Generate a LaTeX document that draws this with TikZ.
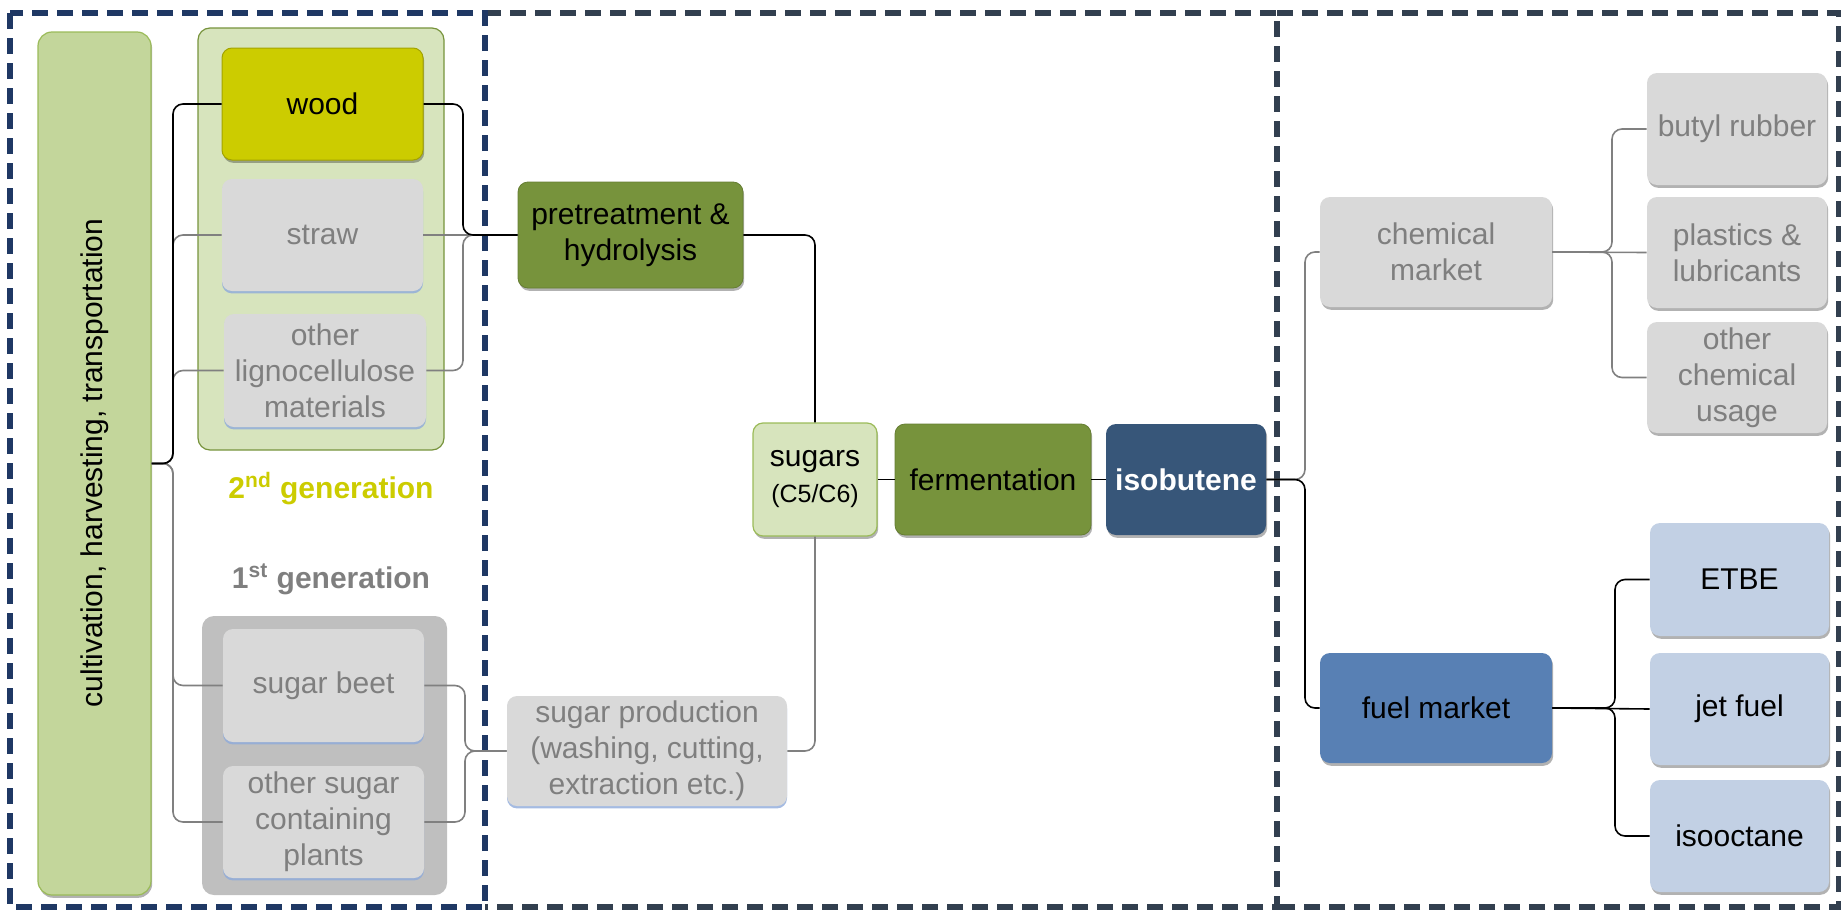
\documentclass[tikz,border=0pt]{standalone}
\usepackage{fontspec}
\setmainfont{Liberation Sans}
\usetikzlibrary{shadows,calc}
\definecolor{navyA}{HTML}{1F3864}
\definecolor{navyB}{HTML}{323F4F}
\definecolor{cultfill}{HTML}{C3D69B}
\definecolor{cultdraw}{HTML}{9BBB59}
\definecolor{grpgreen}{HTML}{D7E4BD}
\definecolor{grpgreendraw}{HTML}{77933C}
\definecolor{woodfill}{HTML}{CCCC00}
\definecolor{wooddraw}{HTML}{A3A300}
\definecolor{boxgray}{HTML}{D9D9D9}
\definecolor{txtgray}{HTML}{7F7F7F}
\definecolor{grpgray}{HTML}{BFBFBF}
\definecolor{olivebox}{HTML}{77933C}
\definecolor{isoblue}{HTML}{375679}
\definecolor{fuelblue}{HTML}{5880B4}
\definecolor{lightblue}{HTML}{C2D0E4}
\definecolor{linegray}{HTML}{808080}
\definecolor{shblue}{HTML}{8EAADB}
\definecolor{gentwo}{HTML}{CCCC00}
\newcommand\fs{\fontsize{15}{18}\selectfont}
\begin{document}
\begin{tikzpicture}[x=0.5pt,y=-0.5pt,
  corners/.style n args={4}{at={({(#1+#3)/2},{(#2+#4)/2})}, minimum width={(#3-#1)*0.5pt}, minimum height={(#4-#2)*0.5pt}},
  box/.style={rectangle, rounded corners=5pt, inner sep=0pt, align=center, font=\fs, anchor=center},
  shad/.style={drop shadow={shadow xshift=0.6pt, shadow yshift=-1.4pt, opacity=0.3, fill=black}},
  blueshad/.style={drop shadow={shadow xshift=0pt, shadow yshift=-1.2pt, opacity=0.8, fill=shblue}},
  graybox/.style={box, fill=boxgray, text=txtgray, blueshad},
  chembox/.style={box, fill=boxgray, text=txtgray, shad},
  olbox/.style={box, fill=olivebox, draw=olivebox!85!black, line width=0.4pt, text=black, shad},
  lbbox/.style={box, fill=lightblue, text=black, shad},
  grp/.style={rectangle, rounded corners=6pt, inner sep=0pt},
  zone/.style={line width=3pt, dash pattern=on 8pt off 4.5pt},
  blk/.style={draw=black, line width=0.8pt, rounded corners=5pt},
  gry/.style={draw=linegray, line width=0.8pt, rounded corners=5pt},
  genlabel/.style={font=\fs\bfseries, anchor=base}
]
\useasboundingbox (0,0) rectangle (1841,910);

% zones
\draw[zone, navyB] (485,13) -- (1277,13) -- (1277,907) -- (485,907);
\draw[zone, navyB] (1277,13) -- (1839,13) -- (1839,907) -- (1277,907);
\draw[zone, navyA] (10,13) rectangle (485,907);

% column coordinates
\coordinate (cL) at (173,0);
\coordinate (cR) at (463,0);
\coordinate (cS) at (465,0);
\coordinate (cI) at (1305,0);
\coordinate (cC) at (1612,0);
\coordinate (cF) at (1615,0);

% group boxes
\node[grp, fill=grpgreen, draw=grpgreendraw, line width=0.6pt, corners={198}{28}{444}{450}] (g2) {};
\node[grp, fill=grpgray, corners={202}{616}{447}{895}] (g1) {};

% left column
\node[box, fill=cultfill, draw=cultdraw, line width=0.6pt, rounded corners=7pt, shad, corners={38}{32}{151}{895}] (cult) {};
\node[rotate=90, font=\fs] (cultlabel) at (95,463) {cultivation, harvesting, transportation};

\node[box, fill=woodfill, draw=wooddraw, line width=0.5pt, shad, corners={222}{48}{423}{160}] (wood) {wood};
\node[graybox, corners={222}{179}{423}{291}] (straw) {straw};
\node[graybox, corners={224}{314}{426}{427}] (ligno) {other\\lignocellulose\\materials};

\node[genlabel, text=gentwo] (gen2) at (331,498) {2\textsuperscript{nd} generation};
\node[genlabel, text=txtgray] (gen1) at (331,588) {1\textsuperscript{st} generation};

\node[graybox, corners={223}{629}{424}{742}] (beet) {sugar beet};
\node[graybox, corners={223}{766}{424}{878}] (osugar) {other sugar\\containing\\plants};

% middle
\node[olbox, corners={518}{182}{743}{288}] (pre) {pretreatment \&\\hydrolysis};
\node[graybox, corners={507}{696}{787}{806}] (sprod) {sugar production\\(washing, cutting,\\extraction etc.)};
\node[box, fill=grpgreen, draw=cultdraw, line width=0.6pt, shad, corners={753}{423}{877}{536}] (sugars) {sugars\\{\fontsize{12.5}{18}\selectfont(C5/C6)}};
\node[olbox, corners={895}{424}{1091}{535}] (ferm) {fermentation};
\node[box, fill=isoblue, text=white, font=\fs\bfseries, shad, corners={1106}{424}{1266}{535}] (iso) {isobutene};

% right
\node[chembox, corners={1320}{197}{1552}{307}] (chem) {chemical\\market};
\node[chembox, corners={1647}{73}{1827}{185}] (butyl) {butyl rubber};
\node[chembox, corners={1647}{197}{1827}{308}] (plast) {plastics \&\\lubricants};
\node[chembox, corners={1647}{322}{1827}{433}] (ochem) {other\\chemical\\usage};

\node[box, fill=fuelblue, text=black, shad, corners={1320}{653}{1552}{763}] (fuel) {fuel market};
\node[lbbox, corners={1650}{523}{1829}{636}] (etbe) {ETBE};
\node[lbbox, corners={1650}{653}{1829}{765}] (jet) {jet fuel};
\node[lbbox, corners={1650}{780}{1829}{892}] (isooct) {isooctane};

% connectors: gray first
\draw[gry] (cult.east) -- (cult.east -| cL) |- (straw.west);
\draw[gry] (cult.east) -- (cult.east -| cL) |- (ligno.west);
\draw[gry] (cult.east) -- (cult.east -| cL) |- (beet.west);
\draw[gry] (cult.east) -- (cult.east -| cL) |- (osugar.west);
\draw[gry] (straw.east) -- (pre.west);
\draw[gry] (ligno.east) -- (ligno.east -| cR) |- (pre.west);
\draw[gry] (beet.east) -- (beet.east -| cS) |- (sprod.west);
\draw[gry] (osugar.east) -- (osugar.east -| cS) |- (sprod.west);
\draw[gry] (sprod.east) -| (sugars.south);
\draw[gry] (iso.east) -- (iso.east -| cI) |- (chem.west);
\draw[gry] (chem.east) -- (chem.east -| cC) |- (butyl.west);
\draw[gry] (chem.east) -- (plast.west);
\draw[gry] (chem.east) -- (chem.east -| cC) |- (ochem.west);

% black connectors
\draw[blk] (cult.east) -- (cult.east -| cL) |- (wood.west);
\draw[blk] (wood.east) -- (wood.east -| cR) |- (pre.west);
\draw[blk] (pre.east) -| (sugars.north);
\draw[blk] (sugars.east) -- (ferm.west);
\draw[blk] (ferm.east) -- (iso.west);
\draw[blk] (iso.east) -- (iso.east -| cI) |- (fuel.west);
\draw[blk] (fuel.east) -- (fuel.east -| cF) |- (etbe.west);
\draw[blk] (fuel.east) -- (jet.west);
\draw[blk] (fuel.east) -- (fuel.east -| cF) |- (isooct.west);
\end{tikzpicture}
\end{document}
